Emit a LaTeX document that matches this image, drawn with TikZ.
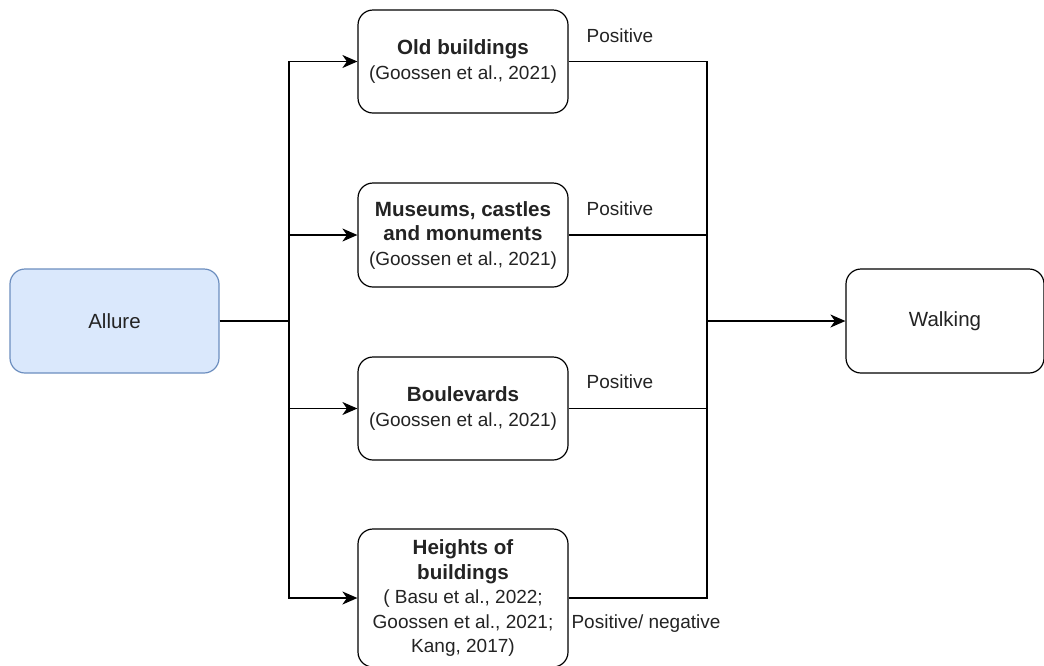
\documentclass[tikz,border=0pt]{standalone}
\usepackage{fontspec}
\setmainfont{Liberation Sans}
\usetikzlibrary{arrows.meta}
\definecolor{txt}{RGB}{35,35,35}
\definecolor{bluefill}{RGB}{218,232,252}
\definecolor{bluedraw}{RGB}{108,142,191}
\newcommand{\ttl}[1]{{\fontsize{20.6}{24.5}\selectfont\bfseries #1}}
\begin{document}
\begin{tikzpicture}[x=1pt,y=1pt,
  every node/.style={font=\fontsize{19}{24.5}\selectfont, text=txt},
  box/.style={draw=black, line width=1.2pt, rounded corners=15pt, fill=white,
    align=center, inner sep=0pt},
  srcbox/.style={box, draw=bluedraw, fill=bluefill},
  bigtext/.style={font=\fontsize{20.5}{24.5}\selectfont},
  link/.style={line width=1.3pt, draw=black},
  arrowlink/.style={link, -{Stealth[length=15pt,width=13pt,inset=4.5pt]}},
  effect/.style={inner sep=0pt}
]
\useasboundingbox (0,0) rectangle (1044,-665);

% source and outcome
\node[srcbox, bigtext, minimum width=209pt, minimum height=104pt] (allure) at (114.5,-321) {Allure};
\node[box, bigtext, minimum width=198pt, minimum height=104pt] (walk) at (945,-321) {Walking};

% built-environment factors
\node[box, minimum width=210pt, minimum height=103pt] (old) at (463,-61.5)
  {\ttl{Old buildings}\\(Goossen et al., 2021)};
\node[box, minimum width=210pt, minimum height=104pt] (mus) at (463,-235)
  {\ttl{Museums, castles}\\\ttl{and monuments}\\(Goossen et al., 2021)};
\node[box, minimum width=210pt, minimum height=103pt] (blv) at (463,-408.5)
  {\ttl{Boulevards}\\(Goossen et al., 2021)};
\node[box, minimum width=210pt, minimum height=138pt] (hgt) at (463,-598)
  {\ttl{Heights of}\\\ttl{buildings}\\( Basu et al., 2022;\\Goossen et al., 2021;\\Kang, 2017)};

% branching and merging points
\coordinate (split) at (289,-321);
\coordinate (merge) at (707,-321);

\draw[link] (allure.east) -- (split);
\draw[arrowlink] (split) |- (old.west);
\draw[arrowlink] (split) |- (mus.west);
\draw[arrowlink] (split) |- (blv.west);
\draw[arrowlink] (split) |- (hgt.west);

\draw[link] (old.east) -| (merge);
\draw[link] (mus.east) -| (merge);
\draw[link] (blv.east) -| (merge);
\draw[link] (hgt.east) -| (merge);
\draw[arrowlink] (merge) -- (walk.west);

% effect labels
\node[effect] (e1) at (620,-36) {Positive};
\node[effect] (e2) at (620,-209) {Positive};
\node[effect] (e3) at (620,-382) {Positive};
\node[effect] (e4) at (646,-624) {Positive/ negative};
\end{tikzpicture}
\end{document}
